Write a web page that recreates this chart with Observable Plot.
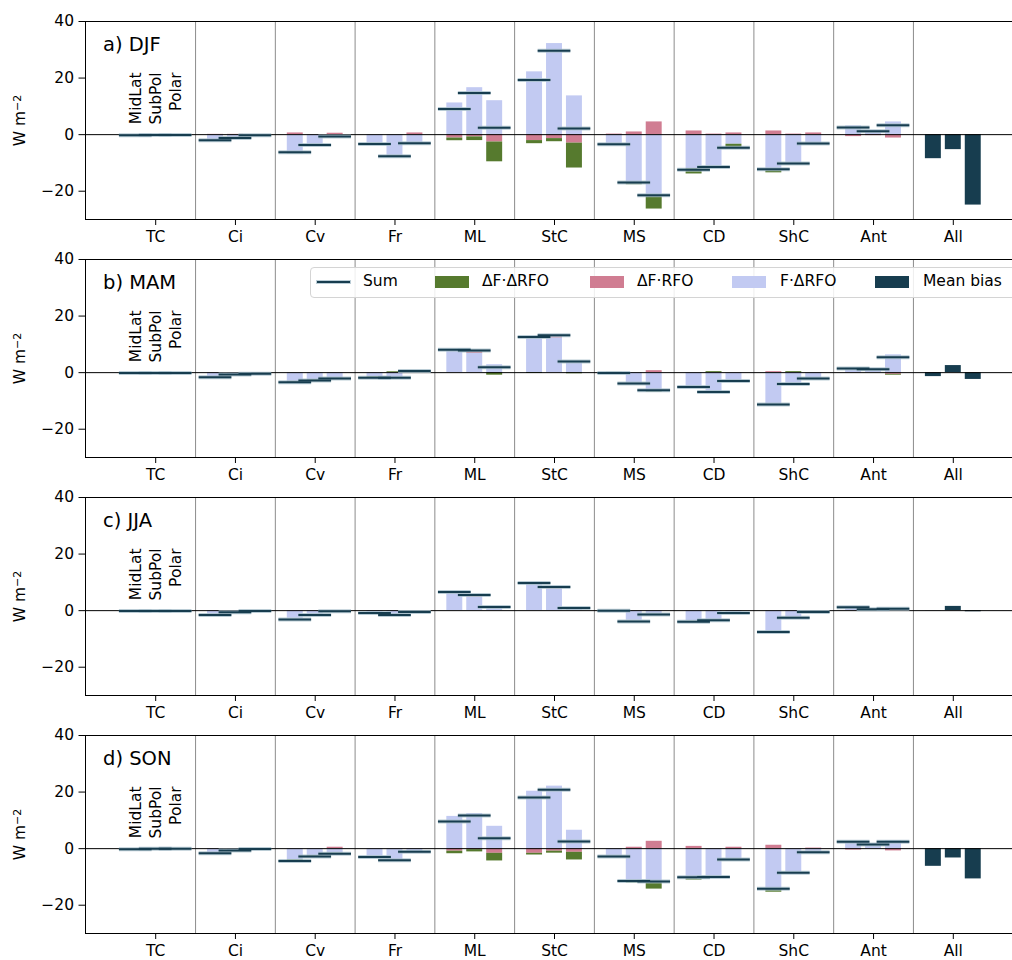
<!DOCTYPE html>
<html><head><meta charset="utf-8">
<script src="https://cdn.jsdelivr.net/npm/d3@7"></script>
<script src="https://cdn.jsdelivr.net/npm/@observablehq/plot@0.6"></script>
<style>
body{margin:0;background:#fff;overflow:hidden;font-family:"DejaVu Sans",sans-serif;}
#wrap{position:relative;width:1012px;height:960px;overflow:hidden;}
#wrap svg{position:absolute;left:0;}
.legend{position:absolute;left:310px;top:267px;width:760px;height:29px;border:1px solid #d4d4d4;border-radius:4px;background:rgba(255,255,255,0.85);font-size:15.5px;color:#000;}
.legend .it{position:absolute;}
.legend .patch{top:8px;width:34px;height:12px;}
.legend .txt{top:4px;white-space:nowrap;}
.legend .line{top:13px;width:33px;height:2px;background:#173d4f;box-shadow:0 0 0 1px rgba(170,192,204,0.8);}
</style></head><body><div id="wrap"></div>
<script>
const categories = ["TC","Ci","Cv","Fr","ML","StC","MS","CD","ShC","Ant"];
const tickLabels = ["TC","Ci","Cv","Fr","ML","StC","MS","CD","ShC","Ant","All"];
const regions = ["MidLat","SubPol","Polar"];
const titles = ["a) DJF","b) MAM","c) JJA","d) SON"];
const compNames = ["F·ΔRFO","ΔF·RFO","ΔF·ΔRFO"];
const compColors = ["#c2caf2","#d07d92","#567a2e"];
const yLabel = "W m";
const yLabelExp = "−2";

// values per category: [MidLat, SubPol, Polar]
const djfBlue  = [[-0.2,-0.1,-0.1],[-2.0,-1.3,-0.2],[-6.4,-3.5,-0.8],[-3.1,-7.5,-3.4],[11.2,16.6,12.0],[22.2,32.2,13.7],[-3.4,-17.0,-21.8],[-12.0,-11.4,-3.4],[-12.7,-10.2,-3.3],[3.1,1.5,4.5]];
const djfPink  = [[0,0,0],[0.1,0.1,0],[0.6,0,0.5],[0,0,0.6],[-1.2,-0.8,-2.6],[-2.1,-1.4,-3.0],[0.2,0.95,4.5],[1.3,0.2,0.6],[1.3,0.2,0.6],[-0.7,-0.35,-1.2]];
const djfGreen = [[0,0,0],[0,0,0],[-0.35,-0.1,0],[-0.2,-0.3,0],[-0.95,-1.3,-7.0],[-1.1,-1.1,-8.8],[0,-0.7,-4.5],[-1.9,0,-1.2],[-0.8,0,0],[0,0,0]];
const djfSum   = [[-0.2,-0.1,-0.1],[-2.0,-1.2,-0.2],[-6.2,-3.7,-0.7],[-3.3,-7.6,-3.0],[9.1,14.7,2.4],[19.3,29.7,2.2],[-3.4,-16.9,-21.4],[-12.4,-11.4,-4.6],[-12.2,-10.2,-3.1],[2.5,1.2,3.3]];
const djfBias  = [-8.5,-5.3,-24.9];

const mamBlue  = [[-0.1,-0.1,-0.1],[-1.5,-0.7,-0.35],[-3.1,-2.6,-2.0],[-1.4,-2.0,0.3],[8.1,6.8,2.8],[12.6,12.3,3.8],[-0.1,-3.8,-6.4],[-5.0,-6.8,-2.9],[-11.3,-4.0,-2.0],[1.6,1.2,6.3]];
const mamPink  = [[0,0,0],[0,0,0],[0,0,0],[0,0,0.3],[0,0.9,0],[0,0.5,0],[0,0,0.7],[0,0,0],[0.35,0,0],[-0.1,0,-0.6]];
const mamGreen = [[0,0,0],[0,0,0],[-0.3,-0.2,-0.1],[-0.4,0.3,0],[0,0,-0.9],[-0.3,0,-0.4],[0.1,0,-0.5],[0,0.35,0],[0,0.35,0],[0,0,-0.3]];
const mamSum   = [[-0.1,-0.1,-0.1],[-1.65,-0.7,-0.35],[-3.4,-2.8,-2.1],[-1.8,-1.8,0.6],[8.1,7.8,1.9],[12.6,13.2,3.9],[-0.1,-3.8,-6.25],[-5.1,-6.8,-2.95],[-11.3,-4.0,-2.1],[1.5,1.2,5.4]];
const mamBias  = [-1.4,2.5,-2.4];

const jjaBlue  = [[-0.1,-0.1,-0.1],[-1.3,-0.6,-0.1],[-2.7,-1.3,-0.2],[-0.8,-1.4,-0.5],[6.5,4.8,0.8],[9.8,7.7,0.5],[-0.1,-3.4,-1.1],[-3.5,-3.3,-0.6],[-7.4,-2.4,-0.4],[1.2,0.5,0.7]];
const jjaPink  = [[0,0,0],[0,0,0],[0,0,0],[0,0,0],[0,0.35,0],[0,0.5,0],[0,0,0],[0,0,0],[0,0,0],[0,0,0]];
const jjaGreen = [[0,0,0],[0,0,0],[0,0,0],[0,0,0],[0,0,0],[0,0,0],[0,0,0],[0,0,0],[0,0,0],[0,0,0]];
const jjaSum   = [[-0.1,-0.1,-0.1],[-1.5,-0.6,-0.1],[-3.1,-1.5,-0.25],[-0.8,-1.5,-0.5],[6.6,5.5,1.3],[9.8,8.4,0.95],[0,-3.8,-1.4],[-3.9,-3.4,-0.8],[-7.55,-2.5,-0.5],[1.2,0.5,0.7]];
const jjaBias  = [0.05,1.5,-0.4];

const sonBlue  = [[-0.2,0,0],[-1.5,-0.7,-0.1],[-3.9,-2.5,-1.5],[-2.7,-3.9,-1.1],[11.4,12.4,7.9],[20.3,22.1,6.5],[-2.7,-11.6,-11.6],[-10.4,-10.0,-3.5],[-14.2,-8.4,-1.2],[2.4,1.65,2.8]];
const sonPink  = [[0,0,0],[0,0,0],[0,0,0.5],[0,0,0],[-0.9,-0.35,-1.65],[-1.65,-0.9,-1.3],[0,0.5,2.6],[0.8,0,0.5],[1.2,0,0.2],[-0.5,0,-0.8]];
const sonGreen = [[0,0,0],[0,0,0],[-0.3,-0.2,-0.1],[0,0,0],[-0.9,-0.8,-2.7],[-0.6,-0.7,-2.7],[0,-0.6,-2.7],[-0.7,0,0],[-1.2,0,0],[0,0,0]];
const sonSum   = [[-0.2,0,0],[-1.65,-0.7,-0.1],[-4.4,-2.8,-1.8],[-2.95,-4.1,-1.1],[9.6,11.7,3.7],[18.05,20.8,2.5],[-2.8,-11.4,-11.6],[-10.1,-10.0,-3.8],[-14.2,-8.5,-1.3],[2.4,1.5,2.4]];
const sonBias  = [-6.25,-3.3,-10.7];

const panels = [
  [djfBlue, djfPink, djfGreen, djfSum, djfBias],
  [mamBlue, mamPink, mamGreen, mamSum, mamBias],
  [jjaBlue, jjaPink, jjaGreen, jjaSum, jjaBias],
  [sonBlue, sonPink, sonGreen, sonSum, sonBias]
];

const wrap = document.getElementById("wrap");
const off = j => (j - 1) * 0.25;

panels.forEach(([blue, pink, green, sum, bias], k) => {
  const comps = [], sums = [], biasRows = [];
  categories.forEach((c, i) => regions.forEach((r, j) => {
    const pos = i + off(j);
    [blue, pink, green].forEach((arr, m) => comps.push({x1: pos - 0.1, x2: pos + 0.1, comp: compNames[m], v: arr[i][j]}));
    sums.push({x1: pos - 0.205, x2: pos + 0.205, v: sum[i][j]});
  }));
  regions.forEach((r, j) => {
    const pos = categories.length + off(j);
    biasRows.push({x1: pos - 0.1, x2: pos + 0.1, v: bias[j]});
  });
  const svg = Plot.plot({
    width: 1012, height: 262,
    marginLeft: 85, marginRight: -11, marginTop: 21, marginBottom: 43,
    style: {fontFamily: "DejaVu Sans, sans-serif", fontSize: "15.5px", overflow: "hidden", background: "transparent", color: "#000"},
    x: {domain: [-0.88, 10.88], ticks: d3.range(11), tickFormat: i => tickLabels[i], tickSize: 6, tickPadding: 5, label: null},
    y: {domain: [-30, 40], ticks: [-20, 0, 20, 40], tickSize: 6.5, tickPadding: 5, label: null},
    color: {domain: compNames, range: compColors},
    marks: [
      Plot.ruleX(d3.range(10).map(i => i + 0.5), {stroke: "#8c8c8c", strokeWidth: 1}),
      Plot.rectY(comps, Plot.stackY({x1: "x1", x2: "x2", y: "v", fill: "comp"})),
      Plot.rectY(biasRows, {x1: "x1", x2: "x2", y1: 0, y2: "v", fill: "#173d4f"}),
      Plot.ruleY([0], {stroke: "#000", strokeWidth: 1}),
      Plot.ruleY(sums, {x1: "x1", x2: "x2", y: "v", stroke: "#a9bfcb", strokeWidth: 4, strokeOpacity: 0.8}),
      Plot.ruleY(sums, {x1: "x1", x2: "x2", y: "v", stroke: "#173d4f", strokeWidth: 2}),
      Plot.text(regions, {x: (d, j) => off(j), y: 22, text: d => d, rotate: -90, textAnchor: "end", fontSize: 15.5, fill: "#000"}),
      Plot.text([titles[k]], {frameAnchor: "top-left", dx: 17.5, dy: 15.5, lineAnchor: "top", textAnchor: "start", fontSize: 19.5, fill: "#000"}),
      Plot.text([yLabel], {frameAnchor: "left", dx: -65, rotate: -90, textAnchor: "middle", fontSize: 15.5, fill: "#000", className: "ylab"}),
      Plot.frame({stroke: "#000", strokeWidth: 1})
    ]
  });
  // add superscript exponent to the y label
  svg.querySelectorAll("text").forEach(t => {
    if (t.textContent === yLabel) {
      const sp = document.createElementNS("http://www.w3.org/2000/svg", "tspan");
      sp.setAttribute("dy", "-0.45em");
      sp.setAttribute("font-size", "11px");
      sp.textContent = yLabelExp;
      t.appendChild(sp);
    }
  });
  svg.style.top = (k * 238) + "px";
  wrap.appendChild(svg);
});

// legend (panel b)
const legend = document.createElement("div");
legend.className = "legend";
const items = [
  {type: "line", left: 6, textLeft: 52, label: "Sum"},
  {type: "patch", color: compColors[2], left: 124, textLeft: 171, label: "ΔF·ΔRFO"},
  {type: "patch", color: compColors[1], left: 279, textLeft: 326, label: "ΔF·RFO"},
  {type: "patch", color: compColors[0], left: 421, textLeft: 469, label: "F·ΔRFO"},
  {type: "patch", color: "#173d4f", left: 564, textLeft: 612, label: "Mean bias"}
];
items.forEach(it => {
  const s = document.createElement("div");
  s.className = "it " + it.type;
  s.style.left = it.left + "px";
  if (it.color) s.style.background = it.color;
  legend.appendChild(s);
  const t = document.createElement("div");
  t.className = "it txt";
  t.style.left = it.textLeft + "px";
  t.textContent = it.label;
  legend.appendChild(t);
});
wrap.appendChild(legend);
</script></body></html>
